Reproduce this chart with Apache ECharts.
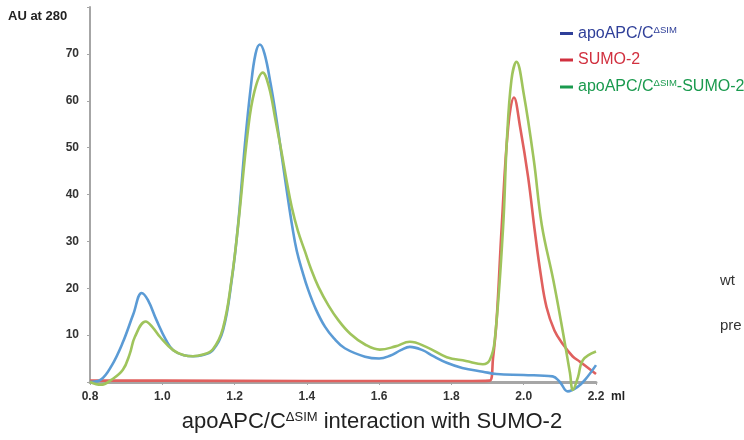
<!DOCTYPE html>
<html>
<head>
<meta charset="utf-8">
<script src="https://cdn.jsdelivr.net/npm/echarts@6/dist/echarts.min.js"></script>
<style>
    html, body { margin: 0; padding: 0; background: #fff; }
    #chart { width: 744px; height: 440px; }
</style>
</head>
<body>
<div id="chart"></div>
<script>
// elution volume (ml), absorbance (AU at 280)
var seriesNames = ['apoAPC/C\u0394SIM', 'SUMO-2', 'apoAPC/C\u0394SIM-SUMO-2'];

var apcData = [
    [0.80, 0], [0.83, 0.5], [0.86, 3.5], [0.89, 8.3], [0.92, 14.5], [0.943, 19], [0.96, 17.5],
    [0.984, 13.2], [1.01, 9], [1.03, 6.8], [1.06, 5.7], [1.085, 5.5], [1.11, 5.7], [1.14, 6.8],
    [1.168, 11], [1.192, 21.7], [1.21, 33.8], [1.229, 51], [1.245, 63], [1.258, 70], [1.27, 72],
    [1.283, 70], [1.3, 63.5], [1.315, 56.5], [1.33, 48.5], [1.346, 40], [1.36, 33], [1.372, 28],
    [1.388, 23.5], [1.404, 19.6], [1.425, 15.5], [1.45, 11.8], [1.475, 9.3], [1.505, 7.2],
    [1.561, 5.4], [1.6, 5], [1.63, 5.6], [1.66, 6.8], [1.685, 7.5], [1.72, 6.8], [1.75, 5.5],
    [1.787, 4.1], [1.83, 3], [1.887, 2.2], [1.925, 1.7], [2.0, 1.5], [2.08, 1.2], [2.1, 0],
    [2.122, -2], [2.15, -1], [2.17, 0.5], [2.2, 3.6]
];

var sumoData = [
    [0.80, 0.3], [1.0, 0.3], [1.4, 0.2], [1.8, 0.2], [1.906, 0.3], [1.915, 5], [1.925, 13.2],
    [1.939, 33], [1.957, 54.4], [1.973, 60.7], [1.99, 54.4], [2.012, 43.8], [2.031, 32],
    [2.047, 23], [2.063, 16], [2.085, 11], [2.109, 8], [2.135, 5.5], [2.156, 4.3], [2.2, 1.7]
];

var complexData = [
    [0.80, 0], [0.83, -0.6], [0.86, 0.5], [0.891, 2.6], [0.91, 6], [0.924, 9.6], [0.954, 12.9],
    [0.975, 11.5], [0.994, 9.6], [1.03, 6.8], [1.06, 5.7], [1.085, 5.5], [1.11, 5.8], [1.14, 7],
    [1.168, 11.5], [1.192, 22], [1.21, 33.5], [1.237, 53.7], [1.255, 62], [1.278, 66],
    [1.295, 63], [1.313, 56], [1.33, 49], [1.345, 42.5], [1.358, 37.4], [1.375, 32.3],
    [1.395, 27.8], [1.412, 24], [1.432, 20.3], [1.46, 16.3], [1.487, 13.2], [1.52, 10.3],
    [1.561, 8], [1.602, 6.9], [1.645, 7.6], [1.685, 8.6], [1.73, 7.5], [1.787, 5.3],
    [1.84, 4.5], [1.887, 3.8], [1.906, 4.7], [1.92, 9], [1.943, 33.1], [1.953, 50.9],
    [1.966, 64.4], [1.98, 68.3], [2.0, 61.5], [2.028, 47.3], [2.05, 33.5], [2.082, 21.7],
    [2.109, 10.4], [2.128, 1.9], [2.136, -1.7], [2.15, 1], [2.164, 4.7], [2.2, 6.5]
];

var lineColors = ['#5b9bd5', '#e0605e', '#9fc45c'];
var legendColors = ['#2f3f99', '#d1303f', '#1a9a4e'];

var chart = echarts.init(document.getElementById('chart'), null, {renderer: 'canvas'});

var font = '"Liberation Sans", Arial, sans-serif';

var makeSeries = function (i, data) {
    return {
        name: seriesNames[i],
        type: 'line',
        data: data,
        smooth: 0.4,
        symbol: 'none',
        clip: false,
        lineStyle: {width: 2.6, color: lineColors[i]},
        itemStyle: {color: lineColors[i]}
    };
};

var option = {
    animation: false,
    backgroundColor: '#fff',
    grid: {left: 90, right: 148, top: 7, height: 375},
    legend: {
        orient: 'vertical',
        left: 560,
        top: 25,
        padding: 0,
        itemWidth: 13,
        itemHeight: 3,
        itemGap: 10.5,
        icon: 'rect',
        data: [
            {name: seriesNames[0], itemStyle: {color: legendColors[0]}},
            {name: seriesNames[1], itemStyle: {color: legendColors[1]}},
            {name: seriesNames[2], itemStyle: {color: legendColors[2]}}
        ],
        formatter: function (name) {
            if (name == seriesNames[0]) {
                return '{b|apoAPC/C}{bs|\u0394SIM}';
            }
            if (name == seriesNames[1]) {
                return '{r|SUMO-2}';
            }
            return '{g|apoAPC/C}{gs|\u0394SIM}{g|-SUMO-2}';
        },
        textStyle: {
            fontFamily: font,
            fontSize: 16,
            rich: {
                b: {color: legendColors[0], fontSize: 16, fontFamily: font},
                bs: {color: legendColors[0], fontSize: 9.5, fontFamily: font, verticalAlign: 'top', padding: [0, 0, 7, 0]},
                r: {color: legendColors[1], fontSize: 16, fontFamily: font},
                g: {color: legendColors[2], fontSize: 16, fontFamily: font},
                gs: {color: legendColors[2], fontSize: 9.5, fontFamily: font, verticalAlign: 'top', padding: [0, 0, 7, 0]}
            }
        }
    },
    xAxis: {
        type: 'value',
        min: 0.8,
        max: 2.2,
        interval: 0.2,
        axisLine: {lineStyle: {color: '#a6a6a6', width: 3}},
        axisTick: {show: true, length: 3, lineStyle: {color: '#a6a6a6'}},
        splitLine: {show: false},
        axisLabel: {
            color: '#333',
            fontWeight: 'bold',
            fontSize: 12,
            fontFamily: font,
            margin: 9,
            formatter: function (v) {
                return v.toFixed(1);
            }
        }
    },
    yAxis: {
        type: 'value',
        min: 0,
        max: 80,
        interval: 10,
        axisLine: {show: true, lineStyle: {color: '#a6a6a6', width: 2}},
        axisTick: {show: true, length: 3, lineStyle: {color: '#a6a6a6'}},
        splitLine: {show: false},
        axisLabel: {
            color: '#333',
            fontWeight: 'bold',
            fontSize: 12,
            fontFamily: font,
            margin: 11,
            formatter: function (v) {
                if (v == 0 || v == 80) {
                    return '';
                }
                return v;
            }
        }
    },
    graphic: [
        {type: 'text', left: 8, top: 10, style: {text: 'AU at 280', fill: '#222', font: 'bold 13px ' + font}},
        {type: 'text', left: 611, top: 391, style: {text: 'ml', fill: '#222', font: 'bold 12px ' + font}},
        {type: 'text', left: 720, top: 273, style: {text: 'wt', fill: '#333', font: '15px ' + font}},
        {type: 'text', left: 720, top: 318, style: {text: 'pre', fill: '#333', font: '15px ' + font}},
        {
            type: 'text',
            left: 'center',
            top: 411,
            style: {
                text: '{t|apoAPC/C}{s|\u0394SIM}{t| interaction with SUMO-2}',
                rich: {
                    t: {fontSize: 22, fontFamily: font, fill: '#222'},
                    s: {fontSize: 13, fontFamily: font, fill: '#222', verticalAlign: 'top', padding: [0, 0, 9, 0]}
                }
            }
        }
    ],
    series: [
        makeSeries(1, sumoData),
        makeSeries(0, apcData),
        makeSeries(2, complexData)
    ]
};

chart.setOption(option);
</script>
</body>
</html>
